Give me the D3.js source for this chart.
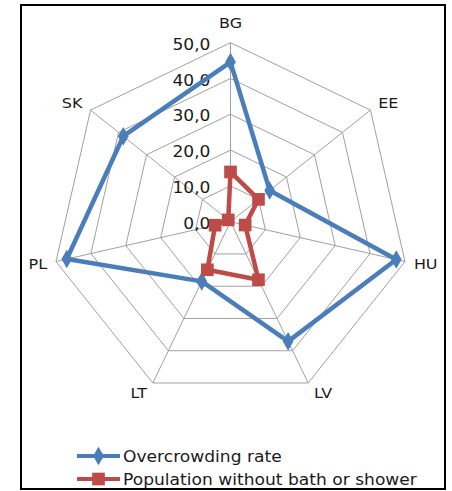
<!DOCTYPE html>
<html>
<head>
<meta charset="utf-8">
<script src="https://cdn.jsdelivr.net/npm/d3@7"></script>
<style>
  body { margin: 0; background: #fff; }
  text { font-family: "DejaVu Sans", sans-serif; }
</style>
</head>
<body>
<div id="canvas"></div>
<script>
const categories = ["BG", "EE", "HU", "LV", "LT", "PL", "SK"];
const overcrowding = [44.6, 14.0, 47.5, 37.1, 18.5, 46.9, 38.3];
const noBath = [13.9, 10.0, 4.2, 18.0, 14.9, 4.4, 0.8];
const ticks = [0, 10, 20, 30, 40, 50];
const seriesNames = ["Overcrowding rate", "Population without bath or shower"];

const w = 452, h = 491;
const cx = 230.5, cy = 221.7, R = 179;
const blue = "#4A7EBB", red = "#BE4B48";
const stretch = 1.14; // text in the picture is a bit wider than the font

const svg = d3.select("#canvas").append("svg")
  .attr("width", w).attr("height", h);

// frame
svg.append("rect")
  .attr("x", 21).attr("y", 5)
  .attr("width", 424).attr("height", 484)
  .attr("fill", "none").attr("stroke", "#000").attr("stroke-width", 2);

const r = d3.scaleLinear().domain([0, 50]).range([0, R]);
const angle = d3.scalePoint().domain(categories).range([0, 2 * Math.PI * 6 / 7]);

function px(cat, v) { return cx + r(v) * Math.sin(angle(cat)); }
function py(cat, v) { return cy - r(v) * Math.cos(angle(cat)); }

function place(x, y) { return "translate(" + x + "," + y + ") scale(" + stretch + ",1)"; }

const chart = svg.append("g");

// rings
ticks.filter(t => t > 0).forEach(t => {
  chart.append("polygon")
    .attr("points", categories.map(c => px(c, t) + "," + py(c, t)).join(" "))
    .attr("fill", "none").attr("stroke", "#A0A0A0").attr("stroke-width", 1);
});
// spokes
chart.selectAll(".spoke").data(categories).enter().append("line")
  .attr("x1", cx).attr("y1", cy)
  .attr("x2", c => px(c, 50)).attr("y2", c => py(c, 50))
  .attr("stroke", "#A0A0A0").attr("stroke-width", 1);

// tick labels
chart.selectAll(".tick").data(ticks).enter().append("text")
  .attr("transform", t => place(cx - 20, cy - r(t) + 7))
  .attr("text-anchor", "end")
  .style("font-size", "15px").style("fill", "#1a1a1a")
  .text(t => t.toFixed(1).replace(".", ","));

// category labels
categories.forEach(c => {
  const a = angle(c), s = Math.sin(a), co = Math.cos(a);
  const t = chart.append("text").style("font-size", "14px").style("fill", "#1a1a1a")
    .attr("text-anchor", "middle").text(c);
  const bb = t.node().getBBox();
  const bw = bb.width * stretch;
  let dx = 0, dy;
  if (Math.abs(s) > 0.1) dx = Math.sign(s) * (bw / 2 + 3 + 6 * Math.abs(s));
  dy = -co * (bb.height / 2 + 3);
  if (Math.abs(s) < 0.1) dy = -co * (bb.height / 2 + 12);
  t.attr("transform", place(px(c, 50) + dx, py(c, 50) + dy + 5));
});

const line = d3.line().curve(d3.curveLinearClosed);

function drawSeries(values, color, shape) {
  const pts = categories.map((c, i) => [px(c, values[i]), py(c, values[i])]);
  chart.append("path").attr("d", line(pts))
    .attr("fill", "none").attr("stroke", color).attr("stroke-width", 4.5)
    .attr("stroke-linejoin", "round");
  chart.selectAll(null).data(pts).enter().append("path")
    .attr("transform", d => "translate(" + d[0] + "," + d[1] + ")")
    .attr("d", d3.symbol().type(shape).size(shape === d3.symbolSquare ? 160 : 100))
    .attr("fill", color);
}
drawSeries(overcrowding, blue, d3.symbolDiamond);
drawSeries(noBath, red, d3.symbolSquare);

// legend
const legend = svg.append("g");
[[seriesNames[0], blue, d3.symbolDiamond], [seriesNames[1], red, d3.symbolSquare]].forEach((d, i) => {
  const y = 456 + i * 23;
  legend.append("line").attr("x1", 77).attr("x2", 120).attr("y1", y).attr("y2", y)
    .attr("stroke", d[1]).attr("stroke-width", 4);
  legend.append("path").attr("transform", "translate(98.5," + y + ")")
    .attr("d", d3.symbol().type(d[2]).size(d[2] === d3.symbolSquare ? 160 : 100))
    .attr("fill", d[1]);
  legend.append("text").attr("transform", place(123, y + 5.5))
    .style("font-size", "15px").style("fill", "#1a1a1a").text(d[0]);
});
</script>
</body>
</html>
